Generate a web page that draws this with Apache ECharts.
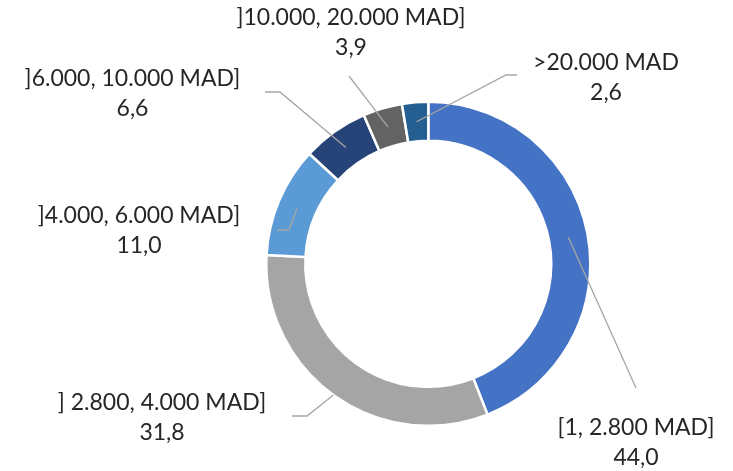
<!DOCTYPE html>
<html>
<head>
<meta charset="utf-8">
<script src="https://cdn.jsdelivr.net/npm/echarts@6/dist/echarts.min.js"></script>
<style>
  html, body { margin: 0; padding: 0; background: #ffffff; }
  #chart { width: 733px; height: 471px; }
</style>
</head>
<body>
<div id="chart"></div>
<script>
// ---- data ----
const categories = [
  '[1, 2.800 MAD]',
  '] 2.800, 4.000 MAD]',
  ']4.000, 6.000 MAD]',
  ']6.000, 10.000 MAD]',
  ']10.000, 20.000 MAD]',
  '>20.000 MAD'
];
const values = [44.0, 31.8, 11.0, 6.6, 3.9, 2.6];

// ---- styling / layout (not data) ----
const colors = ['#4472C4', '#A5A5A5', '#5B9BD5', '#264478', '#636363', '#255E91'];
const CENTER = [428.3, 263.8];
const RADIUS = [123, 162];
// label block centre, leader-line bend points, and relative radius where leader starts
const labelCenters = [[636, 442.5], [162, 417.5], [139, 231], [132.5, 93.5], [351, 32.5], [606, 77.5]];
const leaderBends = [
  [[636, 388]],
  [[307, 416], [292, 416]],
  [[289, 230], [277, 230]],
  [[280, 92], [265, 92]],
  [[349, 76]],
  [[506, 75], [517, 75]]
];
const leaderStartRatio = [0.5, 1.0, 0.5, 0.5, 0.5, 0.5];

const chart = echarts.init(document.getElementById('chart'), null, { renderer: 'canvas' });

function fmt(v) { return v.toFixed(1).replace('.', ','); }

const option = {
  backgroundColor: '#ffffff',
  animation: false,
  color: colors,
  series: [{
    type: 'pie',
    center: CENTER,
    radius: RADIUS,
    startAngle: 90,
    clockwise: true,
    avoidLabelOverlap: false,
    itemStyle: { borderColor: '#ffffff', borderWidth: 2.5 },
    label: {
      show: true,
      position: 'outside',
      formatter: function (p) { return p.name + '\n' + fmt(p.value); },
      fontFamily: 'Lato',
      fontSize: 23,
      lineHeight: 30,
      color: '#262626',
      align: 'center'
    },
    labelLine: { show: false },
    labelLayout: function (params) {
      const i = params.dataIndex;
      return {
        x: labelCenters[i][0],
        y: labelCenters[i][1],
        align: 'center',
        verticalAlign: 'middle'
      };
    },
    emphasis: { disabled: true },
    data: categories.map(function (c, i) { return { name: c, value: values[i] }; })
  }]
};

chart.setOption(option);

// leader lines drawn above the ring, starting from the slice geometry computed by ECharts
const pieData = chart.getModel().getSeriesByIndex(0).getData();
const leaders = values.map(function (v, i) {
  const lay = pieData.getItemLayout(i);
  const mid = (lay.startAngle + lay.endAngle) / 2;
  const r = lay.r0 + (lay.r - lay.r0) * leaderStartRatio[i];
  const start = [lay.cx + r * Math.cos(mid), lay.cy + r * Math.sin(mid)];
  return {
    type: 'polyline',
    z: 100,
    silent: true,
    shape: { points: [start].concat(leaderBends[i]) },
    style: { stroke: '#A6A6A6', lineWidth: 1.3, fill: null }
  };
});
chart.setOption({ graphic: leaders });
</script>
</body>
</html>
